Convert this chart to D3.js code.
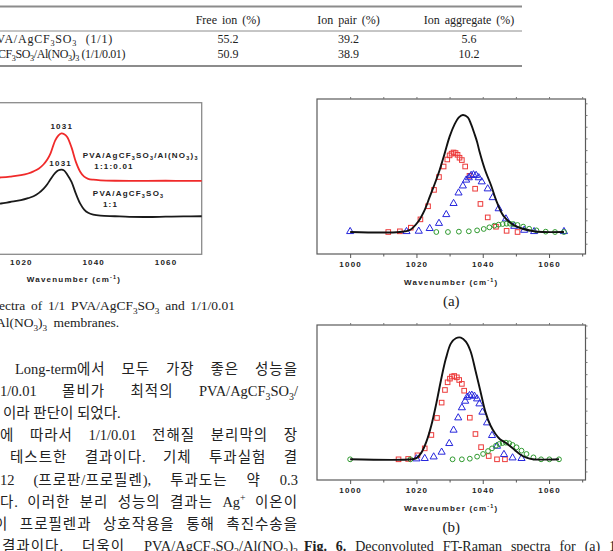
<!DOCTYPE html>
<html>
<head>
<meta charset="utf-8">
<script src="https://cdn.jsdelivr.net/npm/d3@7"></script>
<style>
  body { margin: 0; background: #fff; }
  svg { display: block; }
  .serif { font-family: "Liberation Serif", "Times New Roman", serif; }
  .kr { font-family: "Liberation Serif", "Noto Sans CJK KR", serif; font-size: 14.5px; }
  .lab { font-family: "Liberation Sans", Arial, sans-serif; font-weight: bold; font-size: 8px; letter-spacing: 1.2px; }
</style>
</head>
<body>
<script>
    // ---- table values ----
    var tableCols = ["Free ion (%)", "Ion pair (%)", "Ion aggregate (%)"];
    var tableRows = ["PVA/AgCF_3SO_3 (1/1)", "PVA/AgCF_3SO_3/Al(NO_3)_3 (1/1/0.01)"];
    var freeIon = [55.2, 50.9];
    var ionPair = [39.2, 38.9];
    var ionAggregate = [5.6, 10.2];

    // ---- FT-Raman spectra (left figure) ----
    var ftWave = [1012, 1014.5, 1017, 1020, 1022, 1023.5, 1025, 1026.3, 1027.3, 1028.2, 1029.5, 1030.4, 1031.2, 1032,
                  1032.8, 1034, 1035.2, 1036.4, 1037.5, 1038.6, 1040, 1042, 1046, 1050, 1055, 1060, 1065, 1070];
    var ftPure = [3.28, 3.35, 3.45, 3.57, 3.70, 3.83, 4.05, 4.33, 4.62, 4.95, 5.37, 5.54, 5.59, 5.52,
                  5.27, 4.78, 4.00, 3.34, 2.95, 2.74, 2.62, 2.55, 2.51, 2.47, 2.46, 2.48, 2.50, 2.51];
    var ftAl = [5.02, 5.07, 5.13, 5.22, 5.33, 5.47, 5.66, 5.94, 6.25, 6.66, 7.52, 7.85, 7.97, 7.92,
                7.74, 7.05, 6.10, 5.45, 5.12, 4.98, 4.92, 4.88, 4.85, 4.84, 4.84, 4.85, 4.84, 4.84];

    // ---- deconvoluted spectra (a) 1/1 ----
    var aFreeWave = [1011.5, 1015, 1018.3, 1021.2, 1023.5, 1025.3, 1026.8, 1028.2, 1029.3, 1030, 1030.6, 1031.2,
                     1031.8, 1032.4, 1033, 1033.7, 1034.7, 1036, 1037.7, 1039.3, 1041.5, 1044, 1047.2, 1050.5];
    var aFree = [0, 0.006, 0.037, 0.108, 0.22, 0.36, 0.47, 0.56, 0.62, 0.655, 0.67, 0.68,
                 0.675, 0.66, 0.635, 0.615, 0.56, 0.48, 0.37, 0.24, 0.125, 0.045, 0.01, 0];
    var aPairWave = [1000, 1017, 1020.7, 1024, 1026.8, 1029, 1031.2, 1032.7, 1034, 1035, 1035.8, 1036.5,
                     1037.2, 1038, 1038.8, 1039.7, 1041.5, 1043, 1044.8, 1047, 1049.5, 1052.5, 1055.5, 1064.5];
    var aPair = [0, 0, 0.003, 0.026, 0.07, 0.145, 0.24, 0.33, 0.39, 0.44, 0.46, 0.48,
                 0.485, 0.48, 0.46, 0.425, 0.365, 0.29, 0.195, 0.108, 0.045, 0.011, 0, 0];
    var aAggWave = [1026, 1029.5, 1032.8, 1035.8, 1038.3, 1040.3, 1042, 1043.5, 1044.8, 1046,
                    1047.2, 1048.2, 1049.2, 1050.5, 1052.2, 1054, 1056.2, 1059, 1061.8, 1064.5];
    var aAgg = [0, 0, 0.003, 0.006, 0.014, 0.026, 0.04, 0.054, 0.063, 0.068,
                0.071, 0.071, 0.068, 0.06, 0.046, 0.028, 0.014, 0.003, 0, 0];
    var aFitWave = [1000, 1015, 1018, 1020.5, 1022.5, 1024, 1025.5, 1027, 1028.5, 1030, 1031.5, 1032.8, 1034, 1035.5,
                    1036.5, 1037.5, 1038.3, 1039, 1040.7, 1042.5, 1044.2, 1046.2, 1049, 1051.5, 1055, 1058, 1064.5];
    var aFit = [0, 0, 0.017, 0.088, 0.19, 0.30, 0.41, 0.53, 0.67, 0.815, 0.92, 0.98, 1.0, 0.98,
                0.92, 0.84, 0.77, 0.69, 0.53, 0.40, 0.26, 0.14, 0.065, 0.032, 0.009, 0, 0];

    // ---- deconvoluted spectra (b) 1/1/0.01 ----
    var bFreeWave = [1014.6, 1017.5, 1020.3, 1022.5, 1024.5, 1026.2, 1027.6, 1028.6, 1029.4, 1030.1, 1030.7,
                     1031.4, 1032.2, 1032.9, 1033.7, 1034.4, 1036.1, 1037.8, 1039.5, 1041.8, 1044.3, 1046.7];
    var bFree = [0, 0.003, 0.033, 0.09, 0.2, 0.34, 0.466, 0.57, 0.633, 0.663, 0.68,
                 0.685, 0.674, 0.652, 0.62, 0.564, 0.342, 0.208, 0.1, 0.027, 0, 0];
    var bPairWave = [1020, 1022.5, 1025.2, 1027.6, 1029.9, 1031.2, 1032.6, 1033.7, 1034.7, 1035.3, 1036,
                     1036.7, 1037.5, 1038.3, 1039, 1039.9, 1041.3, 1042.8, 1044.3, 1046.4, 1049, 1051.7];
    var bPair = [0, 0.003, 0.016, 0.055, 0.126, 0.236, 0.337, 0.42, 0.474, 0.507, 0.52,
                 0.523, 0.515, 0.493, 0.452, 0.384, 0.296, 0.192, 0.104, 0.036, 0.008, 0.003];
    var bAggWave = [1000, 1018.2, 1030.9, 1033.7, 1036.1, 1038.3, 1040.1, 1041.6, 1042.8, 1044, 1045,
                    1046, 1047, 1048, 1049, 1050.2, 1051.7, 1053.2, 1055.3, 1057.6, 1060.1, 1063];
    var bAgg = [0, 0, 0, 0, 0.005, 0.022, 0.044, 0.068, 0.09, 0.112, 0.126,
                0.134, 0.137, 0.132, 0.118, 0.099, 0.071, 0.044, 0.016, 0, 0, 0];
    var bFitWave = [1000, 1018.5, 1020, 1021.5, 1023, 1024.5, 1026, 1027.4, 1028.9, 1030.4, 1031.9, 1033.4, 1034.9,
                    1036.3, 1037.8, 1039.3, 1040.8, 1042.3, 1043.8, 1045.2, 1046.7, 1048.2, 1049.7, 1051.2, 1053.2, 1055.1, 1063];
    var bFit = [0, 0, 0.01, 0.055, 0.145, 0.28, 0.46, 0.65, 0.83, 0.953, 0.995, 1.0, 0.967,
                0.89, 0.73, 0.56, 0.39, 0.28, 0.21, 0.165, 0.14, 0.11, 0.075, 0.042, 0.013, 0, 0];

    // ---- page text ----
    var figCaption = ["ectra of 1/1 PVA/AgCF_3SO_3 and 1/1/0.01", "Al(NO_3)_3 membranes."];
    var bodyText = [
      "Long-term에서 모두 가장 좋은 성능을",
      "1/0.01 몰비가 최적의 PVA/AgCF_3SO_3/",
      "이라 판단이 되었다.",
      "에 따라서 1/1/0.01 전해질 분리막의 장",
      "테스트한 결과이다. 기체 투과실험 결",
      "12 (프로판/프로필렌), 투과도는 약 0.3",
      "다. 이러한 분리 성능의 결과는 Ag^+ 이온이",
      "이 프로필렌과 상호작용을 통해 촉진수송을",
      "결과이다. 더욱이 PVA/AgCF_3SO_3/Al(NO_3)_3"
    ];

    var svg = d3.select("body").append("svg")
      .attr("width", 613)
      .attr("height", 551);
    svg.append("rect").attr("width", 613).attr("height", 551).attr("fill", "#fff");

    var hangul = /([\uAC00-\uD7A3]+)/;

    //text with _x subscripts and ^x superscripts, hangul runs get their own tspan
    function rich(t, str, size) {
      var toks = [], buf = "", i = 0;
      while (i < str.length) {
        var c = str[i];
        if ((c === "_" || c === "^") && i + 1 < str.length) {
          if (buf) { toks.push({t: buf, s: ""}); buf = ""; }
          if (str[i + 1] === "{") {
            var e = str.indexOf("}", i);
            toks.push({t: str.slice(i + 2, e), s: c});
            i = e + 1;
          } else {
            toks.push({t: str[i + 1], s: c});
            i += 2;
          }
        } else { buf += c; i++; }
      }
      if (buf) toks.push({t: buf, s: ""});
      var off = 0;
      toks.forEach(function(k) {
        var target = k.s === "_" ? 0.28 : (k.s === "^" ? -0.42 : 0);
        var pieces = k.s ? [k.t] : k.t.split(hangul).filter(function(s) { return s.length; });
        pieces.forEach(function(piece, j) {
          var ts = t.append("tspan")
            .attr("dy", j === 0 ? ((target - off) * size).toFixed(2) : 0)
            .classed("hg", hangul.test(piece))
            .text(piece);
          if (k.s) ts.style("font-size", (size * 0.68).toFixed(2) + "px");
        });
        off = target;
      });
      return t;
    }

    //stretch (or squeeze) a line to a width, part by letters (capped), the rest by word gaps
    function justify(t, width, share, cap) {
      var len = t.node().getComputedTextLength();
      var str = t.text();
      var n = (str.match(/ /g) || []).length;
      var extra = width - len;
      if (extra < 0 || n === 0) {
        t.style("letter-spacing", (extra / str.length).toFixed(3) + "px");
        return;
      }
      var hg = t.selectAll("tspan.hg");
      var nh = d3.sum(hg.nodes(), function(d) { return d.textContent.length; });
      if (nh > 0) hg.style("letter-spacing", Math.min(cap || 99, extra * share / nh).toFixed(3) + "px");
      else t.style("letter-spacing", Math.min(cap || 99, extra * share / str.length).toFixed(3) + "px");
      var len2 = t.node().getComputedTextLength();
      t.style("word-spacing", ((width - len2) / n).toFixed(2) + "px");
    }

    // ---------------- table ----------------
    var table = svg.append("g").attr("class", "serif").style("font-size", "12px").attr("fill", "#222");
    var colX = d3.scalePoint().domain(tableCols).range([228, 469]);
    var rowY = d3.scalePoint().domain(tableRows).range([43, 58]);
    [[6.5, 2], [31, 1], [66, 2]].forEach(function(l) {
      table.append("line")
        .attr("x1", 0).attr("x2", 522)
        .attr("y1", l[0]).attr("y2", l[0])
        .attr("stroke", "#8c8c8c").attr("stroke-width", l[1]);
    });
    table.selectAll("text.head").data(tableCols).enter().append("text")
      .attr("class", "head")
      .attr("x", function(d) { return colX(d); })
      .attr("y", 24)
      .attr("text-anchor", "middle")
      .style("word-spacing", "2px")
      .text(function(d) { return d; });
    var rowStart = [-11, -40], rowEnd = [113, 125];
    tableRows.forEach(function(r, i) {
      var t = rich(table.append("text")
        .attr("x", rowStart[i])
        .attr("y", rowY(r)), r, 12);
      justify(t, rowEnd[i] - rowStart[i], 0.75);
      [freeIon, ionPair, ionAggregate].forEach(function(arr, j) {
        table.append("text")
          .attr("x", colX(tableCols[j]))
          .attr("y", rowY(r))
          .attr("text-anchor", "middle")
          .text(d3.format(".1f")(arr[i]));
      });
    });

    // ---------------- left figure: FT-Raman spectra ----------------
    var lx = d3.scaleLinear().domain([990, 1070]).range([-87.6, 201.7]);
    var ly = d3.scaleLinear().domain([0, 10]).range([254.3, 102.7]);
    var left = svg.append("g");

    left.append("rect")
      .attr("x", lx(990)).attr("y", ly(10))
      .attr("width", lx(1070) - lx(990)).attr("height", ly(0) - ly(10))
      .attr("fill", "none").attr("stroke", "#8a8a8a").attr("stroke-width", 1.3);

    var ftLine = d3.line()
      .x(function(d, i) { return lx(ftWave[i]); })
      .y(function(d) { return ly(d); })
      .curve(d3.curveCatmullRom.alpha(0.5));

    left.append("path").datum(ftPure)
      .attr("d", ftLine).attr("fill", "none").attr("stroke", "#1a1a1a").attr("stroke-width", 1.8);
    left.append("path").datum(ftAl)
      .attr("d", ftLine).attr("fill", "none").attr("stroke", "#f02a2a").attr("stroke-width", 1.8);

    left.append("g")
      .attr("class", "lab")
      .attr("transform", "translate(0," + ly(0) + ")")
      .call(d3.axisBottom(lx).tickValues([1000, 1020, 1040, 1060]).tickSize(0).tickPadding(5).tickFormat(d3.format("d")))
      .call(function(g) {
        g.select(".domain").remove();
        g.selectAll("text").attr("fill", "#222");
      });

    rich(left.append("text").attr("class", "lab").attr("fill", "#222")
      .attr("x", 74).attr("y", ly(0) + 28).attr("text-anchor", "middle"), "Wavenumber (cm^{-1})", 8);

    //peak labels
    left.append("text").attr("class", "lab").attr("fill", "#222").attr("text-anchor", "middle")
      .attr("x", lx(1031.3)).attr("y", ly(d3.max(ftAl)) - 4.5).text("1031");
    left.append("text").attr("class", "lab").attr("fill", "#222").attr("text-anchor", "middle")
      .attr("x", lx(1031)).attr("y", ly(d3.max(ftPure)) - 4).text("1031");

    //curve names
    rich(left.append("text").attr("class", "lab").attr("fill", "#222")
      .attr("x", lx(1037.1)).attr("y", ly(6.35)), "PVA/AgCF_3SO_3/Al(NO_3)_3", 8);
    left.append("text").attr("class", "lab").attr("fill", "#222")
      .attr("x", lx(1040.3)).attr("y", ly(5.63)).text("1:1:0.01");
    rich(left.append("text").attr("class", "lab").attr("fill", "#222")
      .attr("x", lx(1039.9)).attr("y", ly(3.85)), "PVA/AgCF_3SO_3", 8);
    left.append("text").attr("class", "lab").attr("fill", "#222")
      .attr("x", lx(1042.7)).attr("y", ly(3.12)).text("1:1");

    //figure caption
    var cap1 = rich(svg.append("text").attr("class", "serif").style("font-size", "13.5px").attr("fill", "#222")
      .attr("x", -1).attr("y", 310), figCaption[0], 13.5);
    justify(cap1, 236, 0);
    rich(svg.append("text").attr("class", "serif").style("font-size", "13.5px").attr("fill", "#222")
      .attr("x", -4).attr("y", 327).style("word-spacing", "3px"), figCaption[1], 13.5);

    // ---------------- body text ----------------
    var bodyIndent = [15, 0, 3, 0, 10, 0, 0, -6, 2];
    bodyText.forEach(function(s, i) {
      var t = rich(svg.append("text").attr("class", "kr").attr("fill", "#222")
        .attr("x", bodyIndent[i]).attr("y", 374 + i * 22.1), s, 14.5);
      if (i !== 2) justify(t, 298 - bodyIndent[i], 0.55, 1.0);
    });

    // ---------------- right figures: deconvoluted spectra ----------------
    function zip(w, v) {
      return w.map(function(d, i) { return {w: d, v: v[i]}; });
    }

    function drawPanel(p) {
      var x = d3.scaleLinear().domain([990, 1071]).range([317, 585.5]);
      var y = d3.scaleLinear().domain(p.yDomain).range([p.bottom, p.top]);
      var g = svg.append("g");

      g.append("rect")
        .attr("x", x(990)).attr("y", y(p.yDomain[1]))
        .attr("width", x(1071) - x(990)).attr("height", y(p.yDomain[0]) - y(p.yDomain[1]))
        .attr("fill", "none").attr("stroke", "#5a5a5a").attr("stroke-width", 1.2);

      //minor and major ticks
      g.append("g").attr("transform", "translate(0," + p.bottom + ")")
        .call(d3.axisBottom(x).tickValues(d3.range(1010, 1071, 20)).tickSize(2.5).tickFormat(""))
        .call(function(a) { a.select(".domain").remove(); a.selectAll("line").attr("stroke", "#555"); });
      g.append("g").attr("class", "lab").attr("transform", "translate(0," + p.bottom + ")")
        .call(d3.axisBottom(x).tickValues([1000, 1020, 1040, 1060]).tickSize(4).tickPadding(3).tickFormat(d3.format("d")))
        .call(function(a) {
          a.select(".domain").remove();
          a.selectAll("line").attr("stroke", "#555");
          a.selectAll("text").attr("fill", "#222");
        });
      g.append("g").attr("transform", "translate(0," + p.top + ")")
        .call(d3.axisTop(x).tickValues(d3.range(1000, 1071, 10)).tickSize(2).tickFormat(""))
        .call(function(a) { a.select(".domain").remove(); a.selectAll("line").attr("stroke", "#777"); });
      g.append("g").attr("transform", "translate(" + x(1071) + ",0)")
        .call(d3.axisRight(y).ticks(10).tickSize(2).tickFormat(""))
        .call(function(a) { a.select(".domain").remove(); a.selectAll("line").attr("stroke", "#777"); });

      //free ion (squares)
      g.selectAll("rect.free").data(zip(p.freeWave, p.free)).enter().append("rect")
        .attr("class", "free")
        .attr("x", function(d) { return x(d.w) - 2.3; })
        .attr("y", function(d) { return y(d.v) - 2.3; })
        .attr("width", 4.6).attr("height", 4.6)
        .attr("fill", "none").attr("stroke", "#ec3a3a").attr("stroke-width", 1);

      //ion pair (triangles)
      g.selectAll("path.pair").data(zip(p.pairWave, p.pair)).enter().append("path")
        .attr("class", "pair")
        .attr("d", d3.symbol().type(d3.symbolTriangle).size(22))
        .attr("transform", function(d) { return "translate(" + x(d.w) + "," + (y(d.v) - 0.5) + ")"; })
        .attr("fill", "none").attr("stroke", "#2626dc").attr("stroke-width", 1);

      //ion aggregate (circles)
      g.selectAll("circle.agg").data(zip(p.aggWave, p.agg)).enter().append("circle")
        .attr("class", "agg")
        .attr("cx", function(d) { return x(d.w); })
        .attr("cy", function(d) { return y(d.v); })
        .attr("r", 2.4)
        .attr("fill", "none").attr("stroke", "#2f9a2f").attr("stroke-width", 1);

      //fitted sum
      g.append("path").datum(zip(p.fitWave, p.fit))
        .attr("d", d3.line()
          .x(function(d) { return x(d.w); })
          .y(function(d) { return y(d.v); })
          .curve(d3.curveCatmullRom.alpha(0.5)))
        .attr("fill", "none").attr("stroke", "#111").attr("stroke-width", 1.9);

      var cx = (x.range()[0] + x.range()[1]) / 2;
      rich(g.append("text").attr("class", "lab").attr("fill", "#222")
        .attr("x", cx).attr("y", p.bottom + 31).attr("text-anchor", "middle"), "Wavenumber (cm^{-1})", 8);
      g.append("text").attr("class", "serif").style("font-size", "15px").attr("fill", "#222")
        .attr("x", cx).attr("y", p.bottom + 52).attr("text-anchor", "middle").text(p.label);
    }

    drawPanel({top: 99, bottom: 254, yDomain: [-0.188, 1.137], label: "(a)",
      freeWave: aFreeWave, free: aFree, pairWave: aPairWave, pair: aPair,
      aggWave: aAggWave, agg: aAgg, fitWave: aFitWave, fit: aFit});
    drawPanel({top: 325, bottom: 480, yDomain: [-0.17, 1.104], label: "(b)",
      freeWave: bFreeWave, free: bFree, pairWave: bPairWave, pair: bPair,
      aggWave: bAggWave, agg: bAgg, fitWave: bFitWave, fit: bFit});

    //figure 6 caption, cut by the page edge
    var fig6 = svg.append("text").attr("class", "serif").style("font-size", "14px").attr("fill", "#222")
      .attr("x", 304).attr("y", 551);
    fig6.append("tspan").style("font-weight", "bold").text("Fig. 6. ");
    fig6.append("tspan").text("Deconvoluted FT-Raman spectra for (a) 1/");
    justify(fig6, 316, 0);
</script>
</body>
</html>
